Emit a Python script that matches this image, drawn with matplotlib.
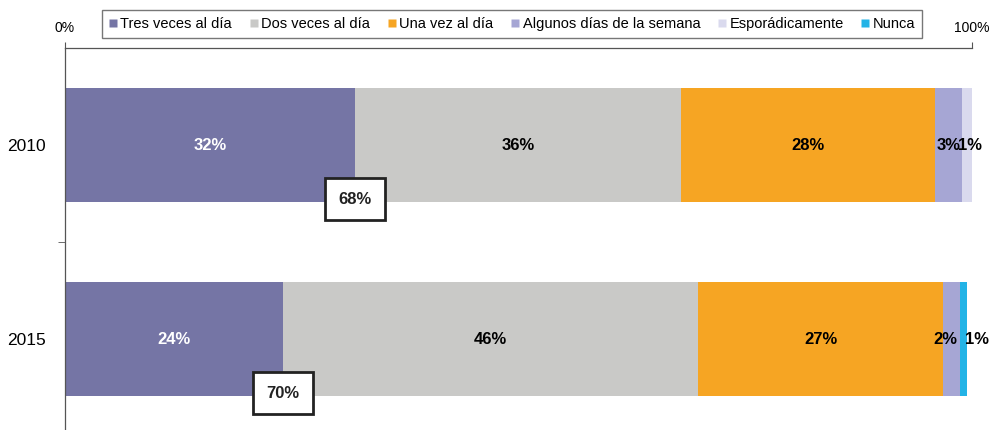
import matplotlib.pyplot as plt
from matplotlib.lines import Line2D

plt.rcParams['font.family'] = ['Liberation Sans', 'DejaVu Sans']

years = ['2010', '2015']
categories = ['Tres veces al día', 'Dos veces al día', 'Una vez al día',
              'Algunos días de la semana', 'Esporádicamente', 'Nunca']
# percentages per category, one list per year
values_2010 = [32.0, 35.9, 28.0, 3.0, 1.1, 0.0]
values_2015 = [24.0, 45.8, 27.0, 1.9, 0.0, 0.8]
labels_2010 = ['32%', '36%', '28%', '3%', '1%', '']
labels_2015 = ['24%', '46%', '27%', '2%', '', '1%']
totals = ['68%', '70%']

colors = ['#7575A5', '#C9C9C7', '#F6A523', '#A6A6D4', '#DADAEE', '#23B3E6']
text_colors = ['white', 'black', 'black', 'black', 'black', 'black']

fig = plt.figure(figsize=(9.92, 4.30), dpi=100)
ax = fig.add_axes([65 / 992, -6 / 430, 907 / 992, 388 / 430])

bar_h = 0.588
series = [values_2010, values_2015]
labels = [labels_2010, labels_2015]
# small horizontal nudges for crowded labels at the end of the bars
nudges = [[0, 0, 0, 0, 0.3, 0], [0, 0, 0, -0.7, 0, 1.5]]

for i, vals in enumerate(series):
    left = 0
    for j, v in enumerate(vals):
        if v > 0:
            ax.barh(i, v, left=left, height=bar_h, color=colors[j], edgecolor='none')
            ax.text(left + v / 2 + nudges[i][j], i, labels[i][j], ha='center', va='center',
                    fontsize=12, fontweight='bold', color=text_colors[j])
        left += v
    cum = vals[0]
    ax.text(cum, i + 0.28, totals[i], ha='center', va='center', fontsize=12,
            fontweight='bold', color='#222222',
            bbox=dict(boxstyle='square,pad=0.8', facecolor='white',
                      edgecolor='#222222', linewidth=2))

ax.set_xlim(0, 100)
ax.set_ylim(1.5, -0.5)

ax.xaxis.tick_top()
ax.set_xticks([0, 100])
ax.set_xticklabels(['0%', '100%'])
ax.tick_params(axis='x', direction='out', length=4, pad=5, labelsize=10,
               color='#555555')

ax.set_yticks([0, 1])
ax.set_yticklabels(years)
ax.tick_params(axis='y', which='major', length=0, pad=14, labelsize=12.5)
ax.set_yticks([0.5], minor=True)
ax.tick_params(axis='y', which='minor', length=5, color='#555555')

for s in ['right', 'bottom']:
    ax.spines[s].set_visible(False)
for s in ['top', 'left']:
    ax.spines[s].set_color('#555555')
    ax.spines[s].set_linewidth(0.9)

handles = [Line2D([], [], marker='s', linestyle='none', markersize=5.5,
                  markerfacecolor=c, markeredgecolor='none') for c in colors]
fig.legend(handles, categories, loc='center', bbox_to_anchor=(512 / 992, 1 - 24 / 430),
           ncol=6, fontsize=10.5, frameon=True, fancybox=False, edgecolor='#555555',
           handlelength=0.6, handletextpad=0.2, columnspacing=1.2,
           borderpad=0.45)

fig.savefig('out.png', dpi=100)
